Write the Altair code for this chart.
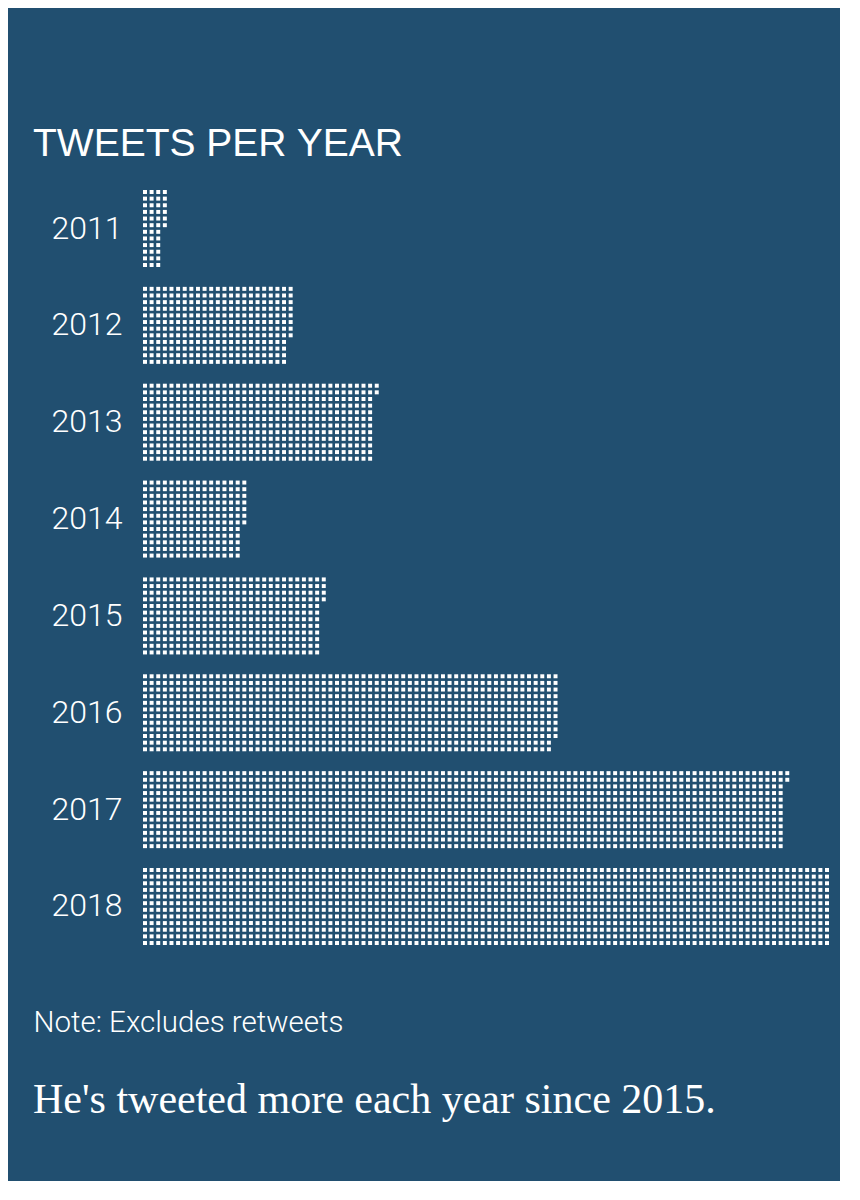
import pandas as pd
import altair as alt

alt.data_transformers.disable_max_rows()

# tweet squares per year, filled column by column, 12 squares tall
years = ["2011", "2012", "2013", "2014", "2015", "2016", "2017", "2018"]
squares = [42, 272, 422, 187, 328, 754, 1166, 1248]
rows_per_column = 12

cells = pd.DataFrame(
    [(y, i // rows_per_column, i % rows_per_column)
     for y, n in zip(years, squares) for i in range(n)],
    columns=["year", "col", "row"],
)

bg = "#214f70"

waffle = alt.Chart(cells).mark_rect(color="white").encode(
    x=alt.X("col:O",
            scale=alt.Scale(paddingInner=0.4, paddingOuter=0),
            axis=alt.Axis(title="Note: Excludes retweets", labels=False, ticks=False,
                          domain=False, titleX=-110, titleY=86, titleAlign="left",
                          titleAnchor="start", titleBaseline="alphabetic",
                          titleFont="Roboto", titleFontWeight=300, titleFontSize=29.5,
                          titleColor="white")),
    y=alt.Y("year:O",
            scale=alt.Scale(paddingInner=0.205, paddingOuter=0),
            axis=alt.Axis(title=None, ticks=False, domain=False, labelPadding=21,
                          labelFont="Roboto", labelFontWeight=300, labelFontSize=32,
                          labelColor="white")),
    yOffset=alt.YOffset("row:O", scale=alt.Scale(paddingInner=0.4, paddingOuter=0)),
).properties(
    width=686,
    height=755,
    title=alt.TitleParams("TWEETS PER YEAR", anchor="start", font="Liberation Sans",
                          fontSize=39, fontWeight="normal", color="white", offset=26),
)

chart = alt.vconcat(waffle).properties(
    title=alt.TitleParams("He's tweeted more each year since 2015.", orient="bottom",
                          anchor="start", font="Liberation Serif", fontSize=42,
                          fontWeight="normal", color="white", offset=43),
    background=bg,
    padding={"left": 25, "top": 117, "right": 10, "bottom": 60},
).configure_view(stroke=None)

chart.save("out.html", embed_options={"renderer": "svg", "actions": False})
